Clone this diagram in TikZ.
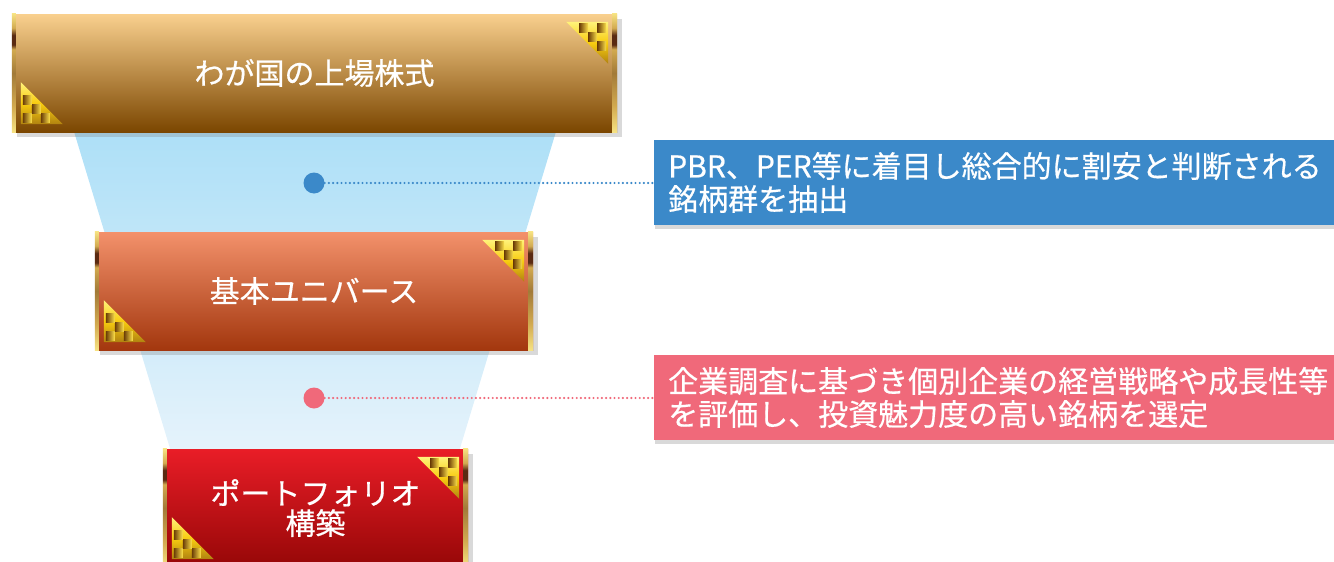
\documentclass[tikz,border=0pt]{standalone}
\usepackage{fontspec}
\setmainfont{Noto Sans CJK JP}
\newfontfamily\labelfont{Noto Sans CJK JP}[FakeBold=0.6]
\usetikzlibrary{calc,shadows}

% palette
\definecolor{stageAtop}{HTML}{F9D08E}
\definecolor{stageAbot}{HTML}{7B4600}
\definecolor{stageBtop}{HTML}{F3916B}
\definecolor{stageBbot}{HTML}{A3370E}
\definecolor{stageCtop}{HTML}{E91D27}
\definecolor{stageCbot}{HTML}{960707}
\definecolor{funneltop}{HTML}{ACDFF7}
\definecolor{funnelbot}{HTML}{E6F3FB}
\definecolor{calblue}{HTML}{3B89C9}
\definecolor{calpink}{HTML}{F0697A}
\definecolor{barlight}{HTML}{F6E282}
\definecolor{barmid}{HTML}{D2AA50}
\definecolor{bardeep}{HTML}{A27A38}
\definecolor{bardark}{HTML}{5A2A12}
\definecolor{trilight}{HTML}{FFF27A}
\definecolor{trimid}{HTML}{F8CC10}
\definecolor{tridark}{HTML}{B08210}
\definecolor{sqdark}{HTML}{6A3C06}
\definecolor{sqlight}{HTML}{FFE24A}

% gold edge strips of the stage plates
\pgfdeclareverticalshading{goldbar}{100bp}{
  color(0bp)=(barlight); color(25bp)=(barlight); color(36bp)=(barmid);
  color(50bp)=(bardeep); color(60bp)=(barmid); color(62bp)=(bardark);
  color(66bp)=(bardark); color(69bp)=(barmid); color(75bp)=(barlight);
  color(100bp)=(barlight)}

\tikzset{
  stage/.style={minimum height=118pt, inner sep=0pt, text=white,
    font=\labelfont\fontsize{30}{30}\selectfont, align=center,
    drop shadow={shadow xshift=5pt, shadow yshift=-5pt, opacity=.3}},
  callout/.style={anchor=west, minimum height=85pt, text width=655pt,
    inner xsep=14pt, inner ysep=0pt, text=white, align=left,
    font=\labelfont\fontsize{30}{33}\selectfont,
    drop shadow={shadow xshift=1pt, shadow yshift=-4pt, opacity=.3}},
  marker/.style={circle, minimum size=21pt, inner sep=0pt},
  leader/.style={line width=2.4pt, dash pattern=on 0pt off 4.2pt, line cap=round},
  goldcorner/.pic={
    \shade[top color=trilight, bottom color=tridark, middle color=trimid]
      (0,0) -- (-42,0) -- (0,42) -- cycle;
    \foreach \c/\r in {0/0, 2/0, 1/1, 2/2}
      \shade[left color=sqdark, right color=sqlight]
        (-29+9*\c,2+9*\r) rectangle (-20+9*\c,11+9*\r);
  }
}

% gold strips and corner ornaments of a stage plate
\newcommand\stagetrim[1]{%
  \shade[shading=goldbar] (#1.north west) rectangle ($(#1.south west)+(4,0)$);
  \shade[shading=goldbar] ($(#1.north east)+(-5,0)$) rectangle (#1.south east);
  \pic at ($(#1.north east)+(-9,8)$) {goldcorner};
  \pic[rotate=180] at ($(#1.south west)+(9,-8)$) {goldcorner};
}

\begin{document}
\begin{tikzpicture}[x=1pt, y=-1pt]
  \useasboundingbox (0,0) rectangle (1334,562);

  % funnel behind the plates
  \shade[top color=funneltop, bottom color=funnelbot]
    (72,125) -- (558,125) -- (458,455) -- (172,455) -- cycle;

  % stage plates
  \node[stage, minimum width=605pt, top color=stageAtop, bottom color=stageAbot]
    (s1) at (314.5,73) {わが国の上場株式};
  \node[stage, minimum width=438pt, top color=stageBtop, bottom color=stageBbot]
    (s2) at (314,291) {基本ユニバース};
  \node[stage, minimum width=305pt, top color=stageCtop, bottom color=stageCbot]
    (s3) at (315.5,508) {ポートフォリオ\\構築};
  \stagetrim{s1}
  \stagetrim{s2}
  \stagetrim{s3}

  % markers and explanations
  \node[marker, fill=calblue] (m1) at (314,183) {};
  \node[marker, fill=calpink] (m2) at (314,398) {};
  \node[callout, fill=calblue] (c1) at (654,182.5)
    {PBR、PER等に着目し総合的に割安と判断される\\銘柄群を抽出};
  \node[callout, fill=calpink] (c2) at (654,397.5)
    {企業調査に基づき個別企業の経営戦略や成長性等\\を評価し、投資魅力度の高い銘柄を選定};
  \draw[leader, calblue] (m1) -- (m1 -| c1.west);
  \draw[leader, calpink] (m2) -- (m2 -| c2.west);
\end{tikzpicture}
\end{document}
